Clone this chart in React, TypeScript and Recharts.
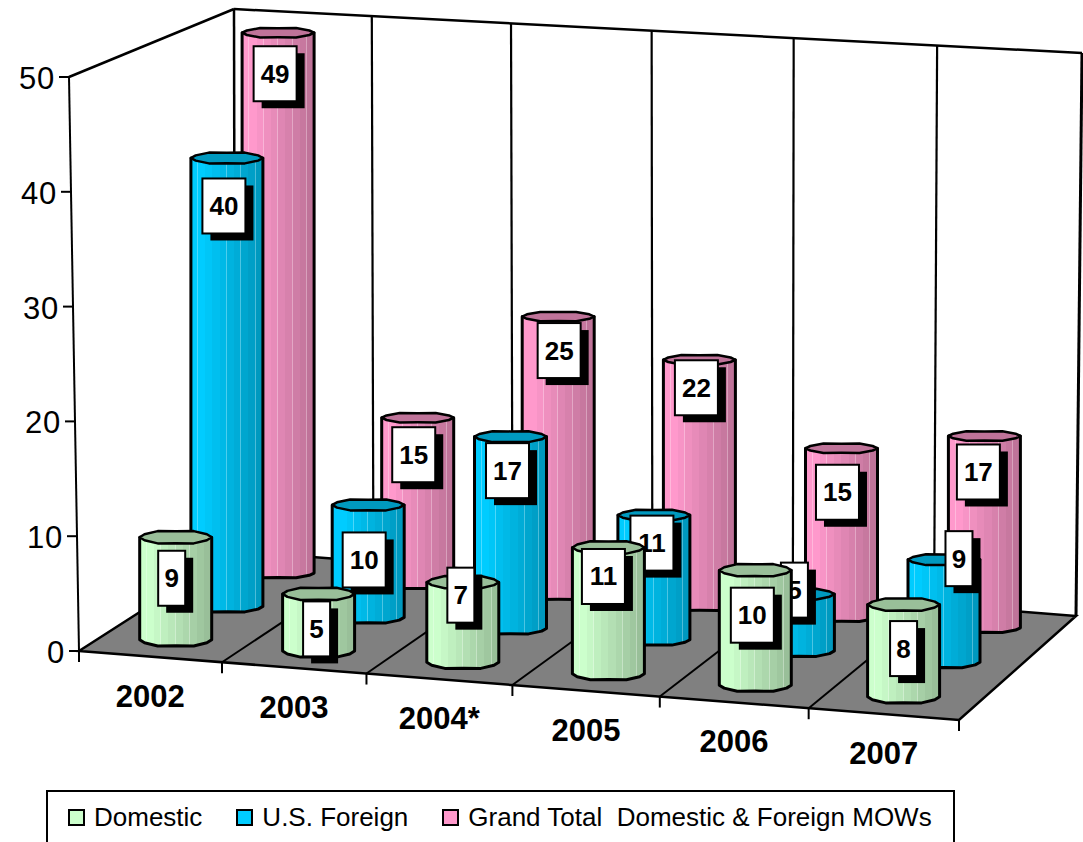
import { Bar, BarChart, Customized, Legend, XAxis, YAxis } from 'recharts';

const categories = ['2002', '2003', '2004*', '2005', '2006', '2007'];
const domestic = [9, 5, 7, 11, 10, 8];
const foreign = [40, 10, 17, 11, 5, 9];
const grandTotal = [49, 15, 25, 22, 15, 17];
const yTicks = [0, 10, 20, 30, 40, 50];

// hand placed data labels, relative to the top of each cylinder
const domesticNudge = [[-4, 41], [-2, 35], [-2, 13], [-5, 29], [-3, 45], [0, 44]];
const foreignNudge = [[-3, 48], [-4, 55], [-3, 34], [-2, 28], [-4, -4], [15, -1]];
const totalNudge = [[-3, 41], [-4, 37], [1, 34], [-3, 28], [-4, 44], [-6, 36]];

const chartData = categories.map((name, i) => ({
  name,
  domestic: domestic[i],
  foreign: foreign[i],
  total: grandTotal[i],
}));

const FONT = '"Liberation Sans", Arial, sans-serif';
const PLOT_LEFT = 79;
const PLOT_WIDTH = 880;

// corners of the floor in the 3D view
const FRONT_L = [79, 651];
const FRONT_R = [959, 720];
const BACK_L = [235, 551];
const BACK_R = [1076, 616];
const TOP_FRONT = [69, 77];
const TOP_L = [234, 9];
const TOP_R = [1082, 53];

const warp = (t: number, a: number) => t + a * t * (t - 1);

// t: 0-1 along the category axis, d: 0-1 into the depth
function project(t: number, d: number) {
  const u = warp(t, 0.03 - 0.015 * d);
  const fx = FRONT_L[0] + (FRONT_R[0] - FRONT_L[0]) * u;
  const fy = FRONT_L[1] + (FRONT_R[1] - FRONT_L[1]) * u;
  const bx = BACK_L[0] + (BACK_R[0] - BACK_L[0]) * u;
  const by = BACK_L[1] + (BACK_R[1] - BACK_L[1]) * u;
  return { x: fx + (bx - fx) * d, y: fy + (by - fy) * d, u };
}

const hex = (c: string, i: number) => parseInt(c.slice(i, i + 2), 16);
function mix(a: string, b: string, k: number) {
  const ch = [1, 3, 5].map((i) => Math.round(hex(a, i) + (hex(b, i) - hex(a, i)) * k));
  return '#' + ch.map((v) => v.toString(16).padStart(2, '0')).join('');
}

function FacetGradient({ id, light, dark }: { id: string; light: string; dark: string }) {
  const bands = 10;
  const stops = [];
  for (let i = 0; i < bands; i++) {
    const k = Math.max(0, (i - 1) / (bands - 2));
    const color = mix(light, dark, k);
    const end = (i + 1) / bands;
    stops.push(<stop key={`${i}a`} offset={i / bands} stopColor={color} />);
    stops.push(<stop key={`${i}b`} offset={end - 0.012} stopColor={color} />);
    // faint pale seam between the facets
    const seam = i % 2 === 0 ? mix(color, '#ffffff', 0.3) : color;
    stops.push(<stop key={`${i}c`} offset={end - 0.012} stopColor={seam} />);
    stops.push(<stop key={`${i}d`} offset={end} stopColor={seam} />);
  }
  return <linearGradient id={id}>{stops}</linearGradient>;
}

// the faces are faceted and a bit scalloped, so every other vertex sits slightly inside
function ring(cx: number, cy: number, rx: number, ry: number, from: number, to: number) {
  const pts = [];
  for (let deg = from; deg <= to; deg += 30) {
    const a = (deg * Math.PI) / 180;
    const dent = (deg / 30) % 2 === 1 ? 0.84 : 1;
    pts.push(`${(cx + rx * Math.cos(a)).toFixed(1)},${(cy + ry * dent * Math.sin(a)).toFixed(1)}`);
  }
  return pts;
}

function makeCylinder(dataKey: string, depth: number, gradId: string, topColor: string, nudges: number[][]) {
  return function Cylinder(props: any) {
    const { x, width, height, index, payload } = props;
    const t = (x + width / 2 - PLOT_LEFT) / PLOT_WIDTH;
    const base = project(t, depth);
    const cx = base.x;
    const h = height * (1 - 0.05 * depth + 0.01 * base.u + 0.02 * depth * base.u);
    const topY = base.y - h;
    const rx = width / 2;
    const ry = 7.5 - 2.5 * depth;
    const body = [
      ...ring(cx, topY, rx, ry, 180, 180),
      ...ring(cx, base.y, rx, ry, 180, 180),
      ...ring(cx, base.y, rx, ry, 0, 180).reverse(),
      ...ring(cx, topY, rx, ry, 0, 0),
    ];
    const value = payload[dataKey];
    const boxW = String(value).length > 1 ? 43 : 27;
    const boxH = 55;
    const lx = cx + nudges[index][0];
    const ly = topY + nudges[index][1];
    return (
      <g>
        <polygon points={body.join(' ')} fill={`url(#${gradId})`} stroke="#000" strokeWidth={3} strokeLinejoin="round" />
        <polygon points={ring(cx, topY, rx, ry, 0, 330).join(' ')} fill={topColor} stroke="#000" strokeWidth={2.5} strokeLinejoin="round" />
        <rect x={lx - boxW / 2 + 8} y={ly - boxH / 2 + 7} width={boxW} height={boxH} fill="#000" />
        <rect x={lx - boxW / 2} y={ly - boxH / 2} width={boxW} height={boxH} fill="#fff" stroke="#000" strokeWidth={2} />
        <text x={lx} y={ly + 9} textAnchor="middle" fontFamily={FONT} fontSize={26} fontWeight="bold" fill="#000">
          {value}
        </text>
      </g>
    );
  };
}

const seg = (a: number[], b: number[], w: number, key: string) => (
  <line key={key} x1={a[0]} y1={a[1]} x2={b[0]} y2={b[1]} stroke="#000" strokeWidth={w} />
);

function WallsAndFloor() {
  const lines = [];
  for (let i = 1; i < categories.length; i++) {
    const t = i / categories.length;
    const front = project(t, 0);
    const back = project(t, 1);
    const u = warp(t, 0.03);
    const top = [TOP_L[0] + (TOP_R[0] - TOP_L[0]) * u, TOP_L[1] + (TOP_R[1] - TOP_L[1]) * u];
    lines.push(seg([front.x, front.y], [back.x, back.y], 2, `floor${i}`));
    lines.push(seg([back.x, back.y], top, 2.2, `wall${i}`));
  }
  for (let i = 0; i <= categories.length; i++) {
    const p = project(i / categories.length, 0);
    lines.push(seg([p.x, p.y], [p.x, p.y + 11], 2, `tick${i}`));
  }
  return (
    <g>
      <polygon points={[FRONT_L, FRONT_R, BACK_R, BACK_L].map((p) => p.join(',')).join(' ')} fill="#808080" stroke="#000" strokeWidth={2.5} />
      {seg(TOP_FRONT, FRONT_L, 2, 'axis')}
      {seg(TOP_FRONT, TOP_L, 2.5, 'top1')}
      {seg(TOP_L, TOP_R, 2.5, 'top2')}
      {seg(TOP_L, BACK_L, 2.5, 'edge1')}
      {seg(TOP_R, BACK_R, 3, 'edge2')}
      {lines}
    </g>
  );
}

function YTick({ y, payload }: any) {
  const ax = FRONT_L[0] - ((FRONT_L[1] - y) * (FRONT_L[0] - TOP_FRONT[0])) / (FRONT_L[1] - TOP_FRONT[1]);
  return (
    <g>
      <line x1={ax - 10} y1={y} x2={ax} y2={y} stroke="#000" strokeWidth={2} />
      <text x={ax - 14} y={y + 12} textAnchor="end" fontFamily={FONT} fontSize={31} letterSpacing={0.8} fill="#000">
        {payload.value}
      </text>
    </g>
  );
}

function XTick({ x, payload }: any) {
  const p = project((x - PLOT_LEFT) / PLOT_WIDTH, 0);
  return (
    <text x={p.x} y={p.y + 50} textAnchor="middle" fontFamily={FONT} fontSize={31} fontWeight="bold" fill="#000">
      {payload.value}
    </text>
  );
}

function LegendBox({ payload }: any) {
  const items = [...(payload ?? [])].reverse();
  return (
    <div
      style={{
        boxSizing: 'border-box',
        width: 909,
        height: 54,
        border: '2px solid #000',
        display: 'flex',
        alignItems: 'center',
        gap: 34,
        paddingLeft: 20,
        fontFamily: FONT,
        fontSize: 26,
        color: '#000',
        whiteSpace: 'pre',
      }}
    >
      {items.map((item: any) => (
        <span key={item.value} style={{ display: 'flex', alignItems: 'center', gap: 9 }}>
          <span style={{ boxSizing: 'border-box', width: 17, height: 17, background: item.color, border: '2px solid #000' }} />
          {item.value}
        </span>
      ))}
    </div>
  );
}

export default function App() {
  return (
    <div style={{ position: 'absolute', left: 0, top: 0, width: 1083, height: 842, overflow: 'hidden', background: '#fff' }}>
      <svg width={0} height={0} style={{ position: 'absolute' }}>
        <defs>
          <FacetGradient id="gradDomestic" light="#CCFFCC" dark="#99BF99" />
          <FacetGradient id="gradForeign" light="#00CCFF" dark="#0099BF" />
          <FacetGradient id="gradTotal" light="#FF99CC" dark="#BF7399" />
        </defs>
      </svg>
      <BarChart
        width={1083}
        height={842}
        data={chartData}
        margin={{ top: 77, right: 124, bottom: 107, left: 0 }}
        barSize={72}
        barGap={-72}
      >
        <Customized component={WallsAndFloor} />
        <XAxis dataKey="name" axisLine={false} tickLine={false} interval={0} height={30} tick={<XTick />} />
        <YAxis width={79} domain={[0, 50]} ticks={yTicks} axisLine={false} tickLine={false} tick={<YTick />} />
        <Bar dataKey="total" name="Grand Total  Domestic & Foreign MOWs" fill="#FF99CC" isAnimationActive={false}
          shape={makeCylinder('total', 0.833, 'gradTotal', '#BF7399', totalNudge)} />
        <Bar dataKey="foreign" name="U.S. Foreign" fill="#00CCFF" isAnimationActive={false}
          shape={makeCylinder('foreign', 0.5, 'gradForeign', '#0099BF', foreignNudge)} />
        <Bar dataKey="domestic" name="Domestic" fill="#CCFFCC" isAnimationActive={false}
          shape={makeCylinder('domestic', 0.167, 'gradDomestic', '#99BF99', domesticNudge)} />
        <Legend
          itemSorter={null}
          content={<LegendBox />}
          wrapperStyle={{ left: 46, top: 790, bottom: 'auto', width: 909, height: 54 }}
        />
      </BarChart>
    </div>
  );
}
